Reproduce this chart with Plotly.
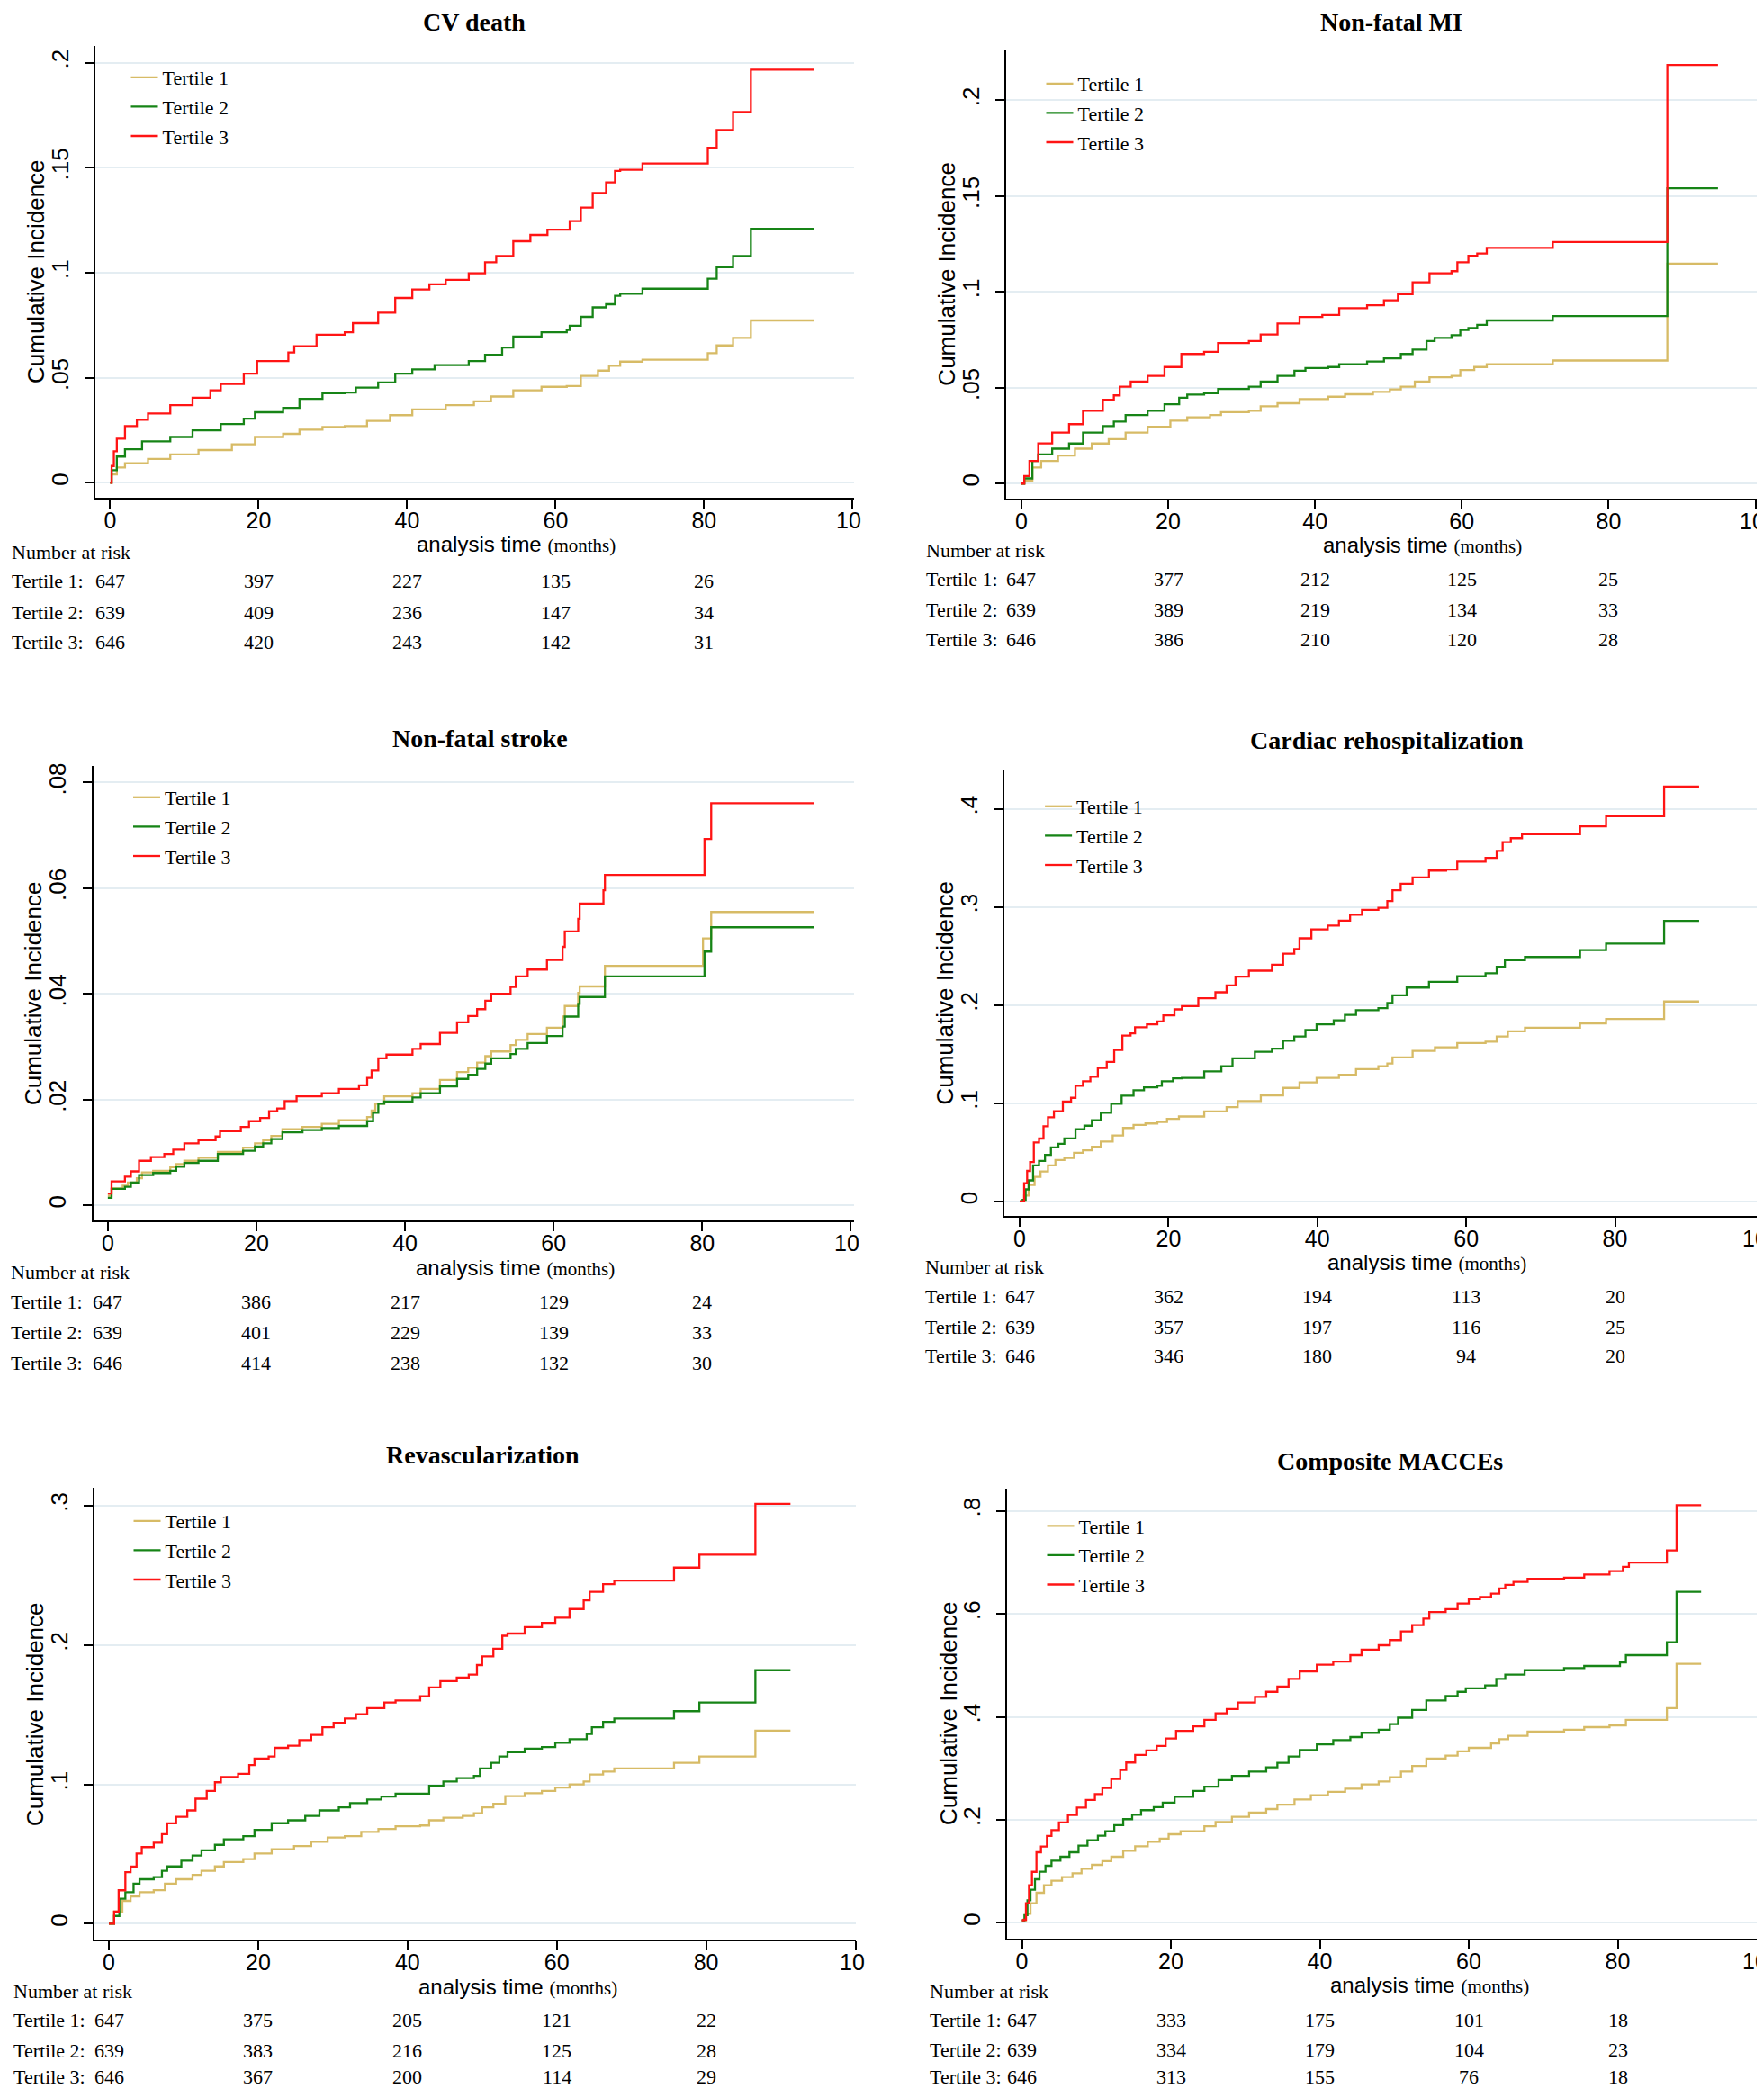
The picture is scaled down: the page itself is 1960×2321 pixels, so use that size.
import plotly.graph_objects as go

# ---------------- data ----------------
GROUPS = ["Tertile 1", "Tertile 2", "Tertile 3"]
TIME_TICKS = [0, 20, 40, 60, 80, 100]
TIME_TICK_TEXT = ["0", "20", "40", "60", "80", ""]
LAST_TICK_TEXT = "10"   # the "100" label is cropped to "10" in the source figure
RISK_TIMES = [0, 20, 40, 60, 80]

# (time in months, cumulative incidence) step points
CV_T1 = [(0, 0), (0.2, 0.004), (0.9, 0.0073), (2, 0.0093), (5.1, 0.0114), (8.1, 0.0135), (11.9, 0.0156),
         (16.4, 0.0183), (19.5, 0.0218), (23.3, 0.0233), (25.5, 0.0253), (28.6, 0.0266), (31.6, 0.027),
         (34.6, 0.0295), (37.7, 0.0322), (40.7, 0.0349), (45.2, 0.037), (49, 0.0388), (51.3, 0.0411),
         (54.3, 0.044), (58.1, 0.0457), (61.5, 0.0461), (63.4, 0.0509), (65.7, 0.0534), (67.2, 0.0557),
         (68.7, 0.0577), (71.7, 0.0586), (80.5, 0.0617), (81.7, 0.0654), (83.9, 0.069), (86.3, 0.0773),
         (94.8, 0.0773)]
CV_T2 = [(0, 0), (0.2, 0.006), (0.9, 0.0125), (2, 0.016), (4.3, 0.0197), (8.1, 0.0218), (11.1, 0.025),
         (14.9, 0.028), (18, 0.0305), (19.5, 0.0336), (23.3, 0.0357), (25.5, 0.040), (28.6, 0.0426),
         (31.6, 0.043), (33.1, 0.0453), (36.1, 0.0478), (38.4, 0.052), (40.7, 0.054), (43.7, 0.056),
         (48.3, 0.058), (50.5, 0.061), (52.8, 0.0644), (54.3, 0.0696), (58.1, 0.0717), (61.5, 0.0727),
         (61.9, 0.0748), (63.4, 0.079), (65, 0.0835), (66.8, 0.085), (68, 0.089), (68.7, 0.090),
         (71.7, 0.0924), (80.5, 0.0972), (81.7, 0.1026), (83.9, 0.108), (86.3, 0.1209), (94.8, 0.1209)]
CV_T3 = [(0, 0), (0.2, 0.008), (0.5, 0.015), (0.9, 0.021), (2, 0.027), (3.6, 0.030), (5.1, 0.033),
         (8.1, 0.037), (11.1, 0.0405), (13.5, 0.044), (14.9, 0.047), (18, 0.052), (19.8, 0.058),
         (24, 0.062), (24.8, 0.065), (27.8, 0.0705), (31.6, 0.0717), (32.7, 0.076), (36.1, 0.081),
         (38.4, 0.088), (40.7, 0.092), (43, 0.0945), (45.2, 0.0966), (48.3, 0.0997), (50.5, 0.105),
         (52, 0.108), (54.3, 0.115), (56.6, 0.118), (58.9, 0.1205), (61.9, 0.1246), (63.4, 0.131),
         (65, 0.138), (66.8, 0.143), (68, 0.1485), (68.7, 0.149), (71.7, 0.152), (80.5, 0.1595),
         (81.7, 0.168), (83.9, 0.1765), (86.3, 0.1967), (94.8, 0.1967)]
CV_RISK = [[647, 397, 227, 135, 26], [639, 409, 236, 147, 34], [646, 420, 243, 142, 31]]

MI_T1 = [(0, 0), (0.4, 0.0016), (1.5, 0.0084), (2.7, 0.0118), (5, 0.0146), (7.3, 0.0182), (9.6, 0.0209),
         (11.9, 0.0232), (14.2, 0.0266), (17.2, 0.0296), (20.3, 0.0328), (22.6, 0.0346), (25.7, 0.0357),
         (27.2, 0.0373), (31, 0.038), (32.6, 0.0403), (34.9, 0.0419), (37.9, 0.0441), (41.8, 0.0453),
         (44.1, 0.0466), (47.9, 0.0478), (50.2, 0.0491), (51.7, 0.0505), (53.6, 0.0532), (55.6, 0.0555),
         (58.6, 0.0562), (59.8, 0.0592), (61.7, 0.0608), (63.4, 0.0623), (72.4, 0.0642), (88, 0.1147),
         (94.9, 0.1147)]
MI_T2 = [(0, 0), (0.4, 0.0027), (1.5, 0.0118), (2.3, 0.0152), (4.2, 0.0182), (6.5, 0.0209), (8.4, 0.0266),
         (11.1, 0.03), (12.6, 0.0323), (14.2, 0.0357), (17.2, 0.038), (19.5, 0.0414), (21.5, 0.0448),
         (22.6, 0.0464), (24.9, 0.0471), (26.8, 0.0494), (31, 0.0505), (32.6, 0.0532), (34.9, 0.0562),
         (37.2, 0.0589), (38.7, 0.0603), (41.8, 0.0608), (43.3, 0.0623), (47.1, 0.0637), (49.4, 0.0653),
         (51.7, 0.0676), (53.3, 0.0699), (55.2, 0.0744), (56.3, 0.076), (58.6, 0.0774), (59.8, 0.0801),
         (60.9, 0.0812), (62.1, 0.0828), (63.4, 0.0851), (72.4, 0.0874), (88, 0.154), (94.9, 0.154)]
MI_T3 = [(0, 0), (0.4, 0.0039), (1.1, 0.0118), (2.3, 0.021), (4.2, 0.0266), (6.5, 0.031), (8.4, 0.038),
         (11.1, 0.0437), (12.6, 0.046), (13.4, 0.0505), (14.9, 0.0532), (17.2, 0.0562), (19.5, 0.0608),
         (21.8, 0.0676), (24.9, 0.0687), (26.8, 0.0733), (31, 0.0744), (32.6, 0.0778), (34.9, 0.0835),
         (37.9, 0.0869), (41, 0.088), (43.3, 0.0915), (47.1, 0.093), (49.4, 0.0956), (51.3, 0.0988),
         (53.3, 0.105), (55.6, 0.1097), (58.6, 0.1108), (59.4, 0.1154), (60.9, 0.1188), (62.1, 0.12),
         (63.4, 0.1229), (72.4, 0.126), (88, 0.2184), (94.9, 0.2184)]
MI_RISK = [[647, 377, 212, 125, 25], [639, 389, 219, 134, 33], [646, 386, 210, 120, 28]]

ST_T1 = [(0, 0.0018), (0.5, 0.0032), (2, 0.0037), (2.7, 0.0043), (3.9, 0.0051), (4.6, 0.0062), (6.1, 0.0065),
         (8.4, 0.0072), (9.2, 0.0078), (10.3, 0.0084), (12.2, 0.009), (14.8, 0.0101), (18.2, 0.0109),
         (19.8, 0.0117), (20.9, 0.0123), (22, 0.0131), (23.5, 0.0144), (26.2, 0.0148), (28.8, 0.0154),
         (31.1, 0.0161), (34.9, 0.0167), (35.5, 0.0179), (36, 0.0192), (37.2, 0.0206), (41, 0.0212),
         (42.1, 0.022), (44.7, 0.0237), (47, 0.0252), (48.5, 0.026), (49.7, 0.027), (50.8, 0.0282),
         (51.6, 0.0291), (54.2, 0.0303), (54.9, 0.0313), (56.5, 0.0324), (59.1, 0.0336), (61.2, 0.0357),
         (61.5, 0.0377), (63.3, 0.0402), (63.5, 0.0414), (66.9, 0.0453), (80.1, 0.0505), (81.2, 0.0555),
         (95.1, 0.0555)]
ST_T2 = [(0, 0.0014), (0.5, 0.0031), (2.3, 0.0035), (3.1, 0.0043), (4.2, 0.0057), (6.1, 0.0061), (8.4, 0.0065),
         (9.2, 0.0073), (10.3, 0.008), (12.2, 0.0084), (14.8, 0.0097), (18.2, 0.0103), (19.8, 0.0111),
         (20.9, 0.0117), (22, 0.0125), (23.5, 0.0138), (26.2, 0.0142), (28.8, 0.0146), (31.1, 0.015),
         (34.9, 0.0159), (35.7, 0.0175), (36.4, 0.0192), (37.2, 0.0196), (41, 0.0204), (42.1, 0.0212),
         (44.7, 0.0225), (47, 0.0239), (48.5, 0.0247), (49.7, 0.0258), (50.8, 0.0268), (51.6, 0.0278),
         (54.2, 0.0286), (54.9, 0.0296), (56.5, 0.0307), (59.1, 0.032), (61.2, 0.0338), (61.5, 0.0357),
         (63.3, 0.0381), (63.5, 0.0394), (66.9, 0.0433), (80.3, 0.048), (81.2, 0.0526), (95.1, 0.0526)]
ST_T3 = [(0, 0.0022), (0.5, 0.0045), (2.3, 0.0054), (3.1, 0.0064), (4.2, 0.0084), (5.8, 0.0091), (7.6, 0.0097),
         (8.8, 0.0105), (10.3, 0.0117), (12.2, 0.0123), (14.5, 0.013), (15.1, 0.014), (17.9, 0.0148),
         (19, 0.0159), (20.5, 0.0165), (21.7, 0.0178), (22.8, 0.0183), (23.8, 0.0197), (25.4, 0.0206),
         (28.8, 0.0212), (31.1, 0.022), (33.8, 0.0227), (34.9, 0.0241), (35.5, 0.0255), (36.4, 0.0278),
         (37.5, 0.0285), (41, 0.0296), (42.1, 0.0305), (44.7, 0.0326), (47, 0.0346), (48.5, 0.0358),
         (49.7, 0.0371), (50.8, 0.0387), (51.6, 0.04), (54.2, 0.0413), (54.9, 0.0433), (56.5, 0.0446),
         (59.1, 0.0464), (61.2, 0.0489), (61.5, 0.0518), (63.3, 0.0542), (63.5, 0.0571), (66.7, 0.0596),
         (66.9, 0.0625), (80.3, 0.0693), (81.2, 0.0761), (95.1, 0.0761)]
ST_RISK = [[647, 386, 217, 129, 24], [639, 401, 229, 139, 33], [646, 414, 238, 132, 30]]

RH_T1 = [(0, 0), (0.6, 0.006), (1.2, 0.0168), (2, 0.025), (2.8, 0.0305), (3.8, 0.0367), (4.8, 0.0422),
         (6, 0.0443), (7.3, 0.0495), (8.5, 0.0519), (9.7, 0.0556), (10.9, 0.061), (12.5, 0.0672),
         (13.9, 0.0748), (15.3, 0.0779), (16.9, 0.0794), (18.5, 0.0809), (19.8, 0.084), (21.4, 0.0865),
         (24.8, 0.0916), (27.8, 0.096), (29.3, 0.1022), (32.4, 0.108), (35.4, 0.1156), (37.6, 0.1213),
         (39.9, 0.1258), (42.9, 0.1289), (45.2, 0.1347), (48.2, 0.1378), (49.4, 0.1404), (50.1, 0.1467),
         (52.8, 0.1533), (55.8, 0.1569), (58.8, 0.1613), (62.6, 0.1627), (64.1, 0.168), (65.6, 0.1733),
         (67.9, 0.1769), (75.3, 0.1813), (78.8, 0.1858), (86.6, 0.2036), (91.3, 0.2036)]
RH_T2 = [(0, 0), (0.4, 0.0015), (0.8, 0.0122), (1.2, 0.0214), (1.8, 0.0367), (2.6, 0.0413), (3.4, 0.0474),
         (4.2, 0.055), (5.2, 0.0587), (6, 0.0642), (7.5, 0.0734), (8.7, 0.0771), (9.7, 0.0826),
         (10.9, 0.0902), (12.3, 0.0994), (13.7, 0.1076), (15.3, 0.1131), (16.7, 0.1161), (18.5, 0.1177),
         (19.1, 0.1223), (20.6, 0.1253), (21.8, 0.1258), (24.8, 0.1324), (27.1, 0.1378), (28.6, 0.1458),
         (31.6, 0.1524), (33.9, 0.1556), (35.4, 0.1636), (36.9, 0.168), (38.4, 0.1747), (39.9, 0.1804),
         (42.2, 0.1844), (43.7, 0.19), (45.2, 0.1947), (48.2, 0.1969), (49.4, 0.2022), (50.1, 0.21),
         (52, 0.2178), (55, 0.2236), (58.8, 0.2293), (62.6, 0.2324), (64.1, 0.239), (65.2, 0.2458),
         (67.9, 0.249), (75.3, 0.256), (78.8, 0.2627), (86.6, 0.2858), (91.3, 0.2858)]
RH_T3 = [(0, 0), (0.6, 0.0185), (1, 0.031), (1.4, 0.040), (1.9, 0.060), (2.6, 0.064), (3.2, 0.0765),
         (3.8, 0.0857), (4.6, 0.0918), (5.8, 0.1016), (6.9, 0.1055), (7.5, 0.1177), (8.5, 0.1223),
         (9.5, 0.1269), (10.5, 0.136), (11.7, 0.1421), (12.7, 0.1543), (13.8, 0.1688), (14.9, 0.1711),
         (15.5, 0.1773), (17.1, 0.1803), (18.5, 0.1834), (19.3, 0.1895), (20.8, 0.1956), (21.8, 0.199),
         (24, 0.207), (26.3, 0.213), (27.8, 0.22), (29, 0.229), (30.8, 0.235), (33.9, 0.241),
         (35.4, 0.2524), (36.9, 0.257), (37.6, 0.268), (39.2, 0.277), (41.4, 0.281), (42.9, 0.286),
         (44.4, 0.292), (46, 0.297), (48.2, 0.299), (49.4, 0.306), (50.1, 0.317), (51.2, 0.3236),
         (52.8, 0.33), (55, 0.337), (57.3, 0.338), (58.8, 0.346), (62.6, 0.35), (64.1, 0.357),
         (64.9, 0.366), (66, 0.37), (67.5, 0.374), (75.3, 0.382), (78.8, 0.3924), (86.6, 0.4227),
         (91.3, 0.4227)]
RH_RISK = [[647, 362, 194, 113, 20], [639, 357, 197, 116, 25], [646, 346, 180, 94, 20]]

RV_T1 = [(0, 0), (0.7, 0.0087), (1.8, 0.0164), (2.9, 0.0195), (4.1, 0.0226), (6, 0.0241), (7.5, 0.0288),
         (9, 0.0319), (11.2, 0.035), (12.4, 0.038), (14.2, 0.0411), (15.4, 0.0442), (18, 0.0464),
         (19.5, 0.0504), (21.8, 0.0535), (24.8, 0.0557), (27.1, 0.0588), (29.3, 0.0619), (31.6, 0.0628),
         (33.8, 0.0659), (36.1, 0.068), (38.4, 0.0699), (41.7, 0.0705), (42.9, 0.0742), (44.8, 0.0761),
         (47.4, 0.0773), (48.9, 0.0792), (50, 0.0835), (51.5, 0.086), (53.1, 0.0916), (55.7, 0.0937),
         (58, 0.0953), (59.8, 0.0977), (61.7, 0.0999), (63.6, 0.1021), (64.4, 0.107), (66.2, 0.1092),
         (67.7, 0.1114), (75.7, 0.1154), (79.1, 0.12), (86.6, 0.1386), (91.3, 0.1386)]
RV_T2 = [(0, 0), (0.7, 0.0056), (1.4, 0.018), (2.2, 0.0226), (3.3, 0.0288), (4.1, 0.0319), (6, 0.0334),
         (7.1, 0.038), (7.8, 0.0411), (9.7, 0.0452), (11.2, 0.0489), (12.4, 0.0526), (14.2, 0.0566),
         (15.4, 0.0606), (18, 0.0628), (19.5, 0.0674), (21.8, 0.0721), (24, 0.0742), (26.3, 0.0773),
         (28.2, 0.0813), (30.8, 0.0835), (32.3, 0.0866), (34.6, 0.0891), (36.5, 0.0912), (38.4, 0.0934),
         (42.9, 0.099), (44.8, 0.1021), (46.6, 0.1045), (48.9, 0.1061), (49.7, 0.1114), (51.2, 0.1154),
         (52.3, 0.12), (53.4, 0.1231), (55.7, 0.1256), (58, 0.1268), (59.8, 0.1299), (61.7, 0.1324),
         (64, 0.1361), (64.7, 0.141), (66.2, 0.1448), (67.7, 0.1472), (75.7, 0.1525), (79.1, 0.1587),
         (86.6, 0.1819), (91.3, 0.1819)]
RV_T3 = [(0, 0), (0.7, 0.0087), (1.3, 0.024), (2.2, 0.037), (2.9, 0.041), (3.7, 0.0504), (4.4, 0.055),
         (6, 0.0582), (7.1, 0.0643), (7.8, 0.072), (9, 0.0767), (10.5, 0.0813), (11.6, 0.0897),
         (13.1, 0.0953), (14.2, 0.1015), (15, 0.1052), (17.3, 0.1076), (18.8, 0.1138), (19.5, 0.1185),
         (21.4, 0.12), (22.2, 0.1262), (24, 0.1277), (25.5, 0.1318), (27.1, 0.1355), (28.6, 0.141),
         (30.1, 0.1441), (31.6, 0.1472), (33.1, 0.1503), (34.6, 0.1547), (36.9, 0.1587), (38.4, 0.1602),
         (41.7, 0.1633), (42.9, 0.1695), (44.4, 0.1741), (46.6, 0.1766), (48.2, 0.1788), (49.3, 0.1856),
         (50, 0.1918), (51.5, 0.1973), (52.7, 0.2066), (53.4, 0.2082), (55.7, 0.2128), (58, 0.2159),
         (59.8, 0.2196), (61.7, 0.2258), (63.6, 0.232), (64.4, 0.2382), (66.2, 0.2437), (67.7, 0.2462),
         (75.7, 0.2555), (79.1, 0.2648), (86.6, 0.3013), (91.3, 0.3013)]
RV_RISK = [[647, 375, 205, 121, 22], [639, 383, 216, 125, 28], [646, 367, 200, 114, 29]]

MA_T1 = [(0, 0.005), (0.54, 0.0175), (1.15, 0.038), (1.95, 0.0584), (2.96, 0.073), (3.97, 0.0817),
         (5.38, 0.0887), (6.79, 0.0963), (8, 0.1051), (9.4, 0.1126), (10.8, 0.1196), (12, 0.1283),
         (13.6, 0.14), (15.2, 0.1487), (16.9, 0.1575), (18.5, 0.1633), (19.7, 0.172), (21.3, 0.1779),
         (24.5, 0.1874), (26, 0.1958), (28.2, 0.2059), (30.5, 0.2142),
         (32.8, 0.2209), (34.3, 0.2293), (36.6, 0.2393), (38.8, 0.2477), (41.1, 0.2544), (43.4, 0.2603),
         (45.6, 0.2686), (47.9, 0.2745), (49.4, 0.2828), (50.9, 0.2937), (52.4, 0.3046), (54.3, 0.3188),
         (56.9, 0.3247), (58.5, 0.3331), (60, 0.3397), (63, 0.3481), (64.1, 0.3565), (65.3, 0.3632),
         (67.9, 0.3715), (72.8, 0.3749), (75.5, 0.3799), (78.9, 0.3833), (81.1, 0.3941), (86.6, 0.4167),
         (87.9, 0.5029), (91.2, 0.5029)]
MA_T2 = [(0, 0.005), (0.34, 0.015), (0.74, 0.0438), (1.15, 0.0642), (1.75, 0.0846), (2.36, 0.0992),
         (3.16, 0.1108), (3.97, 0.1207), (5.17, 0.1283), (6.38, 0.137), (7.6, 0.1499), (8.8, 0.1604),
         (10.2, 0.1691), (11.2, 0.1779), (12.4, 0.1895), (13.6, 0.2012), (14.8, 0.21), (16, 0.2187),
         (17.7, 0.2245), (18.9, 0.2333), (20.5, 0.2449), (23, 0.2561), (24.5, 0.2644),
         (26.4, 0.277), (28.2, 0.2854), (30.5, 0.2937), (32.8, 0.3021), (34.3, 0.3105), (35.8, 0.323),
         (37.3, 0.3356), (39.6, 0.3464), (41.8, 0.3548), (44.1, 0.3607), (45.6, 0.369), (47.9, 0.3749),
         (49.4, 0.3858), (50.5, 0.3983), (52.4, 0.4134), (54.3, 0.4318), (56.9, 0.4402), (58.5, 0.4485),
         (59.6, 0.4552), (62.2, 0.4611), (63.7, 0.4736), (64.9, 0.482), (67.5, 0.4904), (72.8, 0.4946),
         (75.5, 0.4987), (80.3, 0.5054), (81.1, 0.5197), (86.6, 0.5448), (87.9, 0.6427), (91.2, 0.6427)]
MA_T3 = [(0, 0.005), (0.26, 0.006), (0.54, 0.038), (0.95, 0.073), (1.35, 0.099), (1.95, 0.137),
         (2.56, 0.148), (3.36, 0.1686), (3.97, 0.1802), (4.97, 0.1948), (6.18, 0.2094), (7.39, 0.2239),
         (8.6, 0.2385), (9.8, 0.2501), (10.8, 0.2618), (12, 0.2793), (13.2, 0.2968), (14, 0.3113),
         (15.2, 0.3259), (16.7, 0.3347), (18.1, 0.3434), (19.3, 0.358), (20.7, 0.3726), (23, 0.3816),
         (24.5, 0.3941), (26, 0.4067), (27.5, 0.415), (29, 0.4276), (31.3, 0.4385), (32.8, 0.4485),
         (34.3, 0.4586), (35.8, 0.4736), (37.3, 0.4879), (39.6, 0.5013), (41.8, 0.5071), (44.1, 0.5197),
         (45.6, 0.5305), (47.9, 0.5389), (49.4, 0.549), (50.9, 0.5657), (52.4, 0.5782), (53.9, 0.5908),
         (54.7, 0.6033), (56.9, 0.6092), (58.5, 0.6201), (60, 0.6285), (61.5, 0.6326), (63, 0.6393),
         (64.1, 0.6494), (64.9, 0.6561), (66, 0.6619), (67.9, 0.6678), (72.8, 0.6703), (75.5, 0.6762),
         (78.9, 0.6828), (80.7, 0.6912), (81.5, 0.6996), (86.6, 0.723), (87.9, 0.8109), (91.2, 0.8109)]
MA_RISK = [[647, 333, 175, 101, 18], [639, 334, 179, 104, 23], [646, 313, 155, 76, 18]]

# ---------------- styling / layout ----------------
W, H = 1960, 2321
COLORS = ["#d7bb66", "#168416", "#ff1414"]
SANS = "Liberation Sans, Arial, sans-serif"
SERIF = "Liberation Serif, Times New Roman, serif"
TXT_SHIFT = 7  # visual-centre correction for annotation text (px)


def px(v):
    return v / W


def py(v):
    return 1 - v / H


PANELS = [
    dict(title="CV death", series=[CV_T1, CV_T2, CV_T3], risk=CV_RISK,
         yt=[0, 0.05, 0.1, 0.15, 0.2], ytt=["0", ".05", ".1", ".15", ".2"],
         xdom=(98, 940.6), xr=(-1.99, 100.15), ydom=(42.7, 545.3), yr=(-0.00724, 0.2081),
         tpos=(519, 14), leg=(180, 86), xtitle=(565, 606), nar=(3, 612), rows=(645, 679, 712)),
    dict(title="Non-fatal MI", series=[MI_T1, MI_T2, MI_T3], risk=MI_RISK,
         yt=[0, 0.05, 0.1, 0.15, 0.2], ytt=["0", ".05", ".1", ".15", ".2"],
         xdom=(1110, 1945.6), xr=(-2.07, 100.38), ydom=(47, 546.3), yr=(-0.008, 0.2264),
         tpos=(1538, 14.5), leg=(1197, 93), xtitle=(1572, 607), nar=(1019, 611), rows=(643, 676, 709)),
    dict(title="Non-fatal stroke", series=[ST_T1, ST_T2, ST_T3], risk=ST_RISK,
         yt=[0, 0.02, 0.04, 0.06, 0.08], ytt=["0", ".02", ".04", ".06", ".08"],
         xdom=(95.6, 940.6), xr=(-1.97, 100.38), ydom=(843, 1348), yr=(-0.00288, 0.08313),
         tpos=(525, 813), leg=(182.5, 886), xtitle=(564, 1409), nar=(2, 1412.6), rows=(1445.5, 1479.5, 1513)),
    dict(title="Cardiac rehospitalization", series=[RH_T1, RH_T2, RH_T3], risk=RH_RISK,
         yt=[0, 0.1, 0.2, 0.3, 0.4], ytt=["0", ".1", ".2", ".3", ".4"],
         xdom=(1108, 1953.7), xr=(-2.06, 100.22), ydom=(847.9, 1343.3), yr=(-0.0151, 0.4391),
         tpos=(1533, 815), leg=(1195.6, 896), xtitle=(1577, 1403), nar=(1017.5, 1406.8), rows=(1439, 1473, 1505.6)),
    dict(title="Revascularization", series=[RV_T1, RV_T2, RV_T3], risk=RV_RISK,
         yt=[0, 0.1, 0.2, 0.3], ytt=["0", ".1", ".2", ".3"],
         xdom=(96.9, 942.5), xr=(-1.95, 100.0), ydom=(1645.2, 2147.1), yr=(-0.01143, 0.3127),
         tpos=(528, 1609), leg=(183, 1690), xtitle=(567, 2208), nar=(5, 2211), rows=(2243, 2277, 2306)),
    dict(title="Composite MACCEs", series=[MA_T1, MA_T2, MA_T3], risk=MA_RISK,
         yt=[0, 0.2, 0.4, 0.6, 0.8], ytt=["0", ".2", ".4", ".6", ".8"],
         xdom=(1111.3, 1957), xr=(-1.96, 100.24), ydom=(1645.7, 2145.7), yr=(-0.0302, 0.8435),
         tpos=(1536, 1616.5), leg=(1198, 1695.5), xtitle=(1580.6, 2206), nar=(1022.5, 2211), rows=(2243, 2276.4, 2306)),
]

fig = go.Figure()
annotations = []
layout = dict(
    width=W, height=H, margin=dict(l=0, r=0, t=0, b=0),
    paper_bgcolor="white", plot_bgcolor="white", showlegend=True,
)

for i, p in enumerate(PANELS, start=1):
    sfx = "" if i == 1 else str(i)
    xname, yname = "x" + sfx, "y" + sfx
    legname = "legend" + sfx
    for g, (name, pts, col) in enumerate(zip(GROUPS, p["series"], COLORS)):
        fig.add_trace(go.Scatter(
            x=[t for t, _ in pts], y=[v for _, v in pts], mode="lines", name=name,
            line=dict(color=col, width=2.3, shape="hv"), xaxis=xname, yaxis=yname,
            legend=legname, legendgroup=f"{i}-{g}", hoverinfo="skip",
        ))
    layout["xaxis" + sfx] = dict(
        domain=[px(p["xdom"][0]), px(p["xdom"][1])], range=list(p["xr"]), anchor=yname,
        showline=True, linecolor="black", linewidth=2, ticks="outside", ticklen=10, tickwidth=2,
        tickcolor="black", tickvals=TIME_TICKS, ticktext=TIME_TICK_TEXT, showgrid=False, zeroline=False,
        tickfont=dict(family=SANS, size=25, color="black"), ticklabelstandoff=-8,
        ticklabeloverflow="allow", automargin=False,
    )
    layout["yaxis" + sfx] = dict(
        domain=[py(p["ydom"][1]), py(p["ydom"][0])], range=list(p["yr"]), anchor=xname,
        showline=True, linecolor="black", linewidth=2, ticks="outside", ticklen=10, tickwidth=2,
        tickcolor="black", tickvals=p["yt"], ticktext=p["ytt"], tickangle=-90,
        showgrid=True, gridcolor="#e4edf2", gridwidth=2, zeroline=False,
        tickfont=dict(family=SANS, size=26, color="black"), ticklabelstandoff=8, automargin=False,
    )
    layout[legname] = dict(
        x=px(p["leg"][0] - 47.5), y=py(p["leg"][1] - 29), xanchor="left", yanchor="top",
        bgcolor="rgba(0,0,0,0)", borderwidth=0, tracegroupgap=1,
        font=dict(family=SERIF, size=22, color="black"),
    )
    # cropped "100" tick label, shown as "10" starting just left of the tick (kept inside the page)
    x0p, x1p = p["xdom"]
    tick100 = x0p + (100 - p["xr"][0]) / (p["xr"][1] - p["xr"][0]) * (x1p - x0p)
    annotations.append(dict(
        text=LAST_TICK_TEXT, x=px(min(tick100 - 20, W - 34)), y=py(p["ydom"][1] + 32 - 7),
        xref="paper", yref="paper", xanchor="left", yanchor="middle", showarrow=False,
        font=dict(family=SANS, size=25, color="black"),
    ))
    # y-axis title
    annotations.append(dict(
        text="Cumulative Incidence", textangle=-90,
        x=px(p["xdom"][0] - 66), y=py((p["ydom"][0] + p["ydom"][1]) / 2), xref="paper", yref="paper",
        xanchor="center", yanchor="middle", showarrow=False, font=dict(family=SANS, size=26, color="black"),
    ))
    # panel title (top-row titles are kept fully inside the page)
    title_y = max(p["tpos"][1] - 1, 0)
    if title_y < 20:
        annotations.append(dict(
            text="<b>" + p["title"] + "</b>", x=px(p["tpos"][0]), y=1.0,
            xref="paper", yref="paper", xanchor="center", yanchor="top", showarrow=False,
            font=dict(family=SERIF, size=28, color="black"), borderpad=0,
        ))
    else:
        annotations.append(dict(
            text="<b>" + p["title"] + "</b>", x=px(p["tpos"][0]), y=py(title_y),
            xref="paper", yref="paper", xanchor="center", yanchor="middle", showarrow=False,
            font=dict(family=SERIF, size=28, color="black"),
        ))
    # x-axis title
    annotations.append(dict(
        text='analysis time <span style="font-family:Liberation Serif, serif; font-size:21px">(months)</span>',
        x=px(p["xtitle"][0]), y=py(p["xtitle"][1] - 9), xref="paper", yref="paper",
        xanchor="center", yanchor="middle", showarrow=False, font=dict(family=SANS, size=24, color="black"),
    ))
    # number at risk table
    annotations.append(dict(
        text="Number at risk", x=px(p["nar"][0]), y=py(p["nar"][1] - TXT_SHIFT), xref="paper", yref="paper",
        xanchor="left", yanchor="middle", showarrow=False, font=dict(family=SERIF, size=22, color="black"),
    ))
    for g, (name, row_y, counts) in enumerate(zip(GROUPS, p["rows"], p["risk"])):
        annotations.append(dict(
            text=name + ":", x=px(p["nar"][0]), y=py(row_y - TXT_SHIFT), xref="paper", yref="paper",
            xanchor="left", yanchor="middle", showarrow=False, font=dict(family=SERIF, size=22, color="black"),
        ))
        for t, n in zip(RISK_TIMES, counts):
            annotations.append(dict(
                text=str(n), x=t, y=py(row_y - TXT_SHIFT), xref=xname, yref="paper",
                xanchor="center", yanchor="middle", showarrow=False,
                font=dict(family=SERIF, size=22, color="black"),
            ))

layout["annotations"] = annotations
fig.update_layout(**layout)
fig.write_html("out.html")
